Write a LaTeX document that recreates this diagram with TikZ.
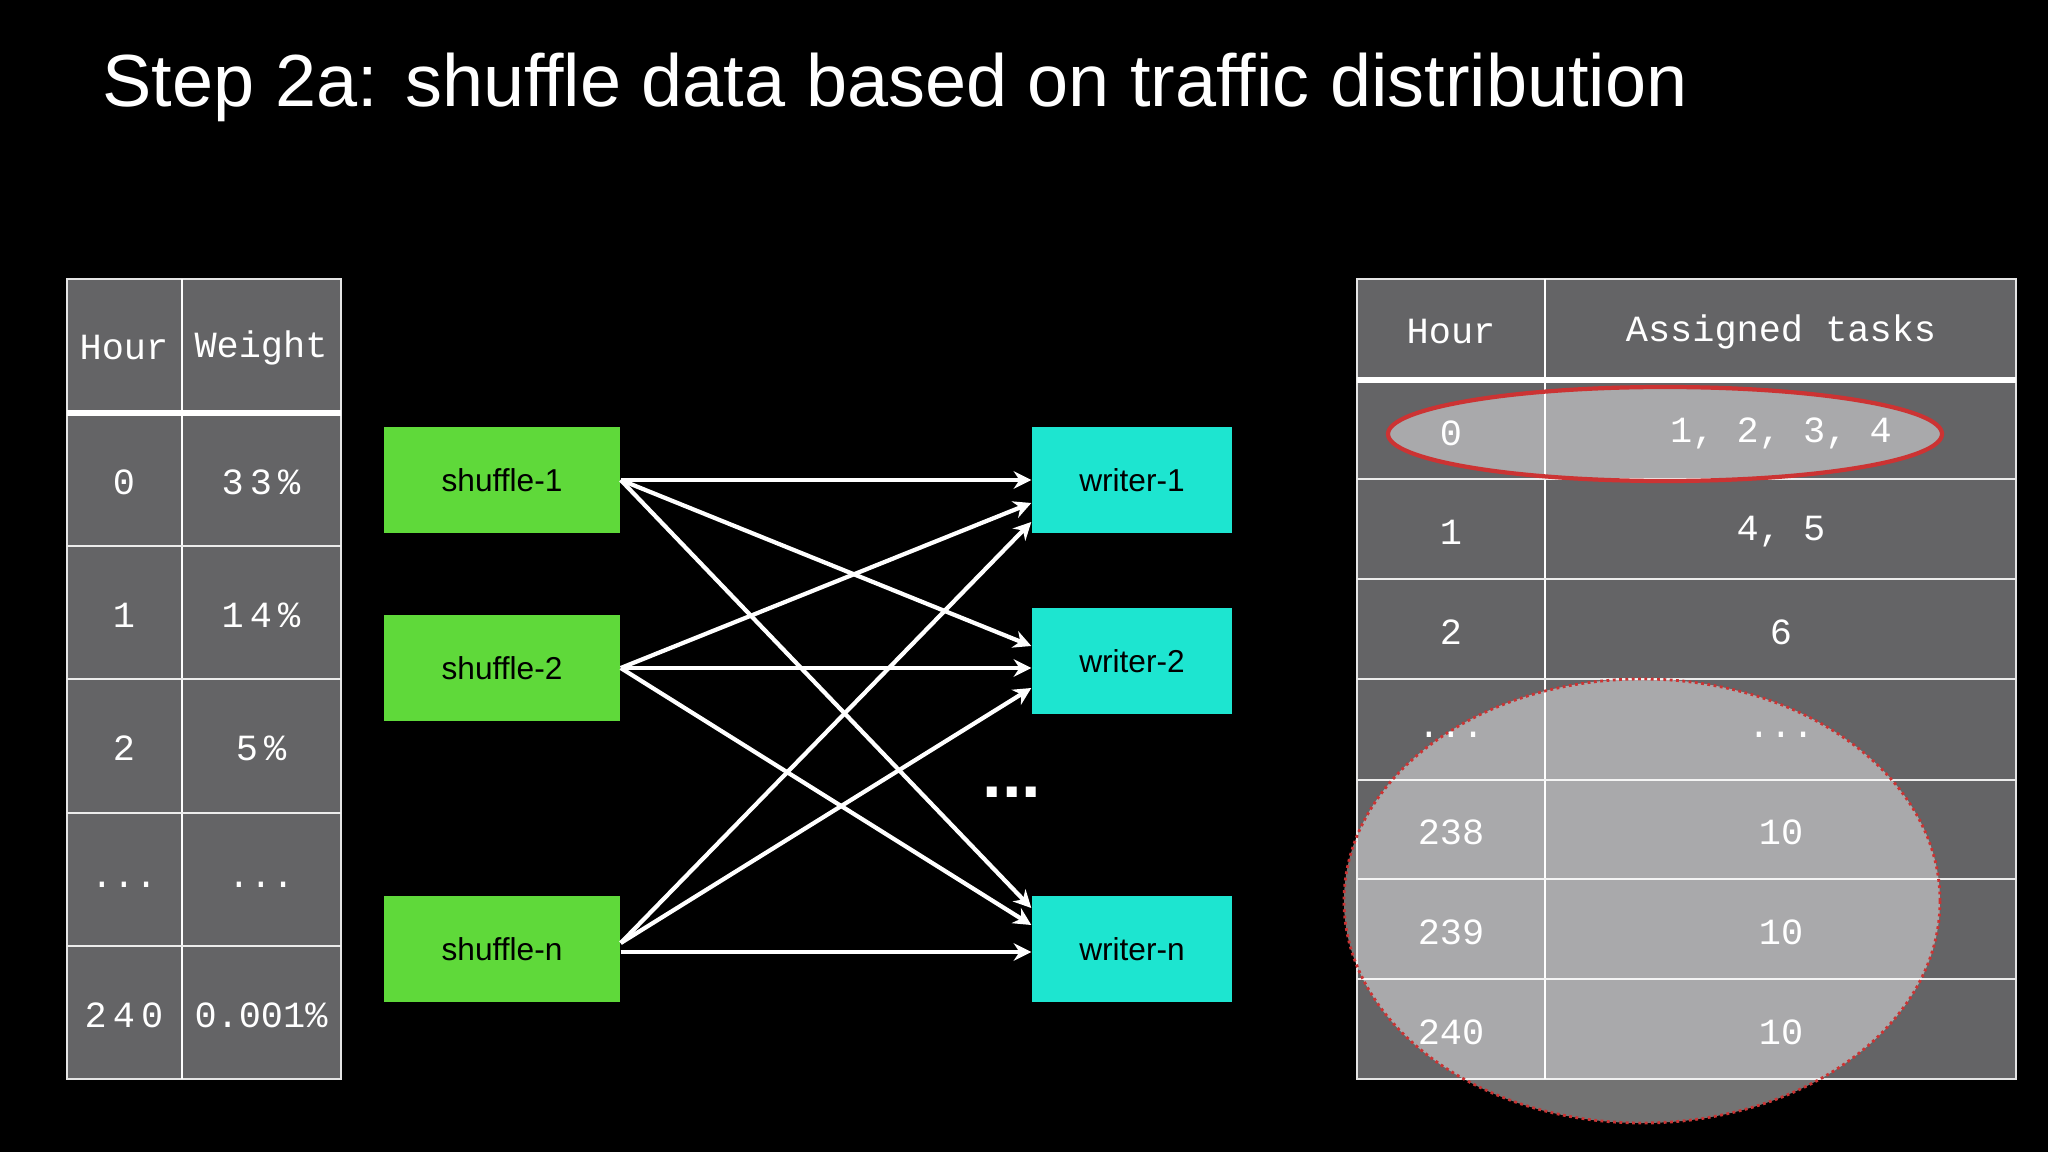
\documentclass[tikz,border=0pt]{standalone}
\usepackage{fontspec}
\usetikzlibrary{arrows.meta,calc}
\setmainfont{Liberation Sans}
\setmonofont{Liberation Mono}
\begin{document}
\begin{tikzpicture}[x=0.01cm,y=-0.01cm,
  cellt/.style={font=\ttfamily\fontsize{10.5pt}{12pt}\selectfont,text=white},
  shuf/.style={fill={rgb,255:red,95;green,217;blue,58}, minimum width=236*0.01cm, minimum height=106*0.01cm, inner sep=0pt, font=\fontsize{9pt}{10pt}\selectfont},
  writ/.style={fill={rgb,255:red,29;green,229;blue,208}, minimum width=200*0.01cm, minimum height=106*0.01cm, inner sep=0pt, font=\fontsize{9pt}{10pt}\selectfont},
  arr/.style={white, line width=1.2pt, -{Stealth[length=5pt,width=5pt]}}]
\fill[black] (0,0) rectangle (2048,1152);
\useasboundingbox (0,0) rectangle (2048,1152);
\node[anchor=base west, text=white, font=\fontsize{21pt}{24pt}\selectfont, inner sep=0pt] (title) at (102,107) {Step 2a: shuffle data based on traffic distribution};
% left table
\fill[fill={rgb,255:red,100;green,100;blue,102}] (67,279) rectangle (341,1079);
\draw[white!80!gray, line width=0.5pt] (67,279) rectangle (341,1079);
\draw[white, line width=0.8pt] (182,279) -- (182,1079);
\draw[white, line width=1.6pt] (67,413) -- (341,413);
\foreach \y in {546,679,813,946} \draw[white!85!gray, line width=0.5pt] (67,\y) -- (341,\y);
\node[cellt] (lh1) at (124,348) {Hour};
\node[cellt] (lh2) at (261,348) {Weight};
\node[cellt] (l01) at (124,482) {0}; \node[cellt] (l02) at (261,482) {3\,3\,\%};
\node[cellt] (l11) at (124,615) {1}; \node[cellt] (l12) at (261,615) {1\,4\,\%};
\node[cellt] (l21) at (124,748) {2}; \node[cellt] (l22) at (261,748) {5\,\%};
\node[cellt] (l31) at (124,885) {...}; \node[cellt] (l32) at (261,885) {...};
\node[cellt] (l41) at (124,1015) {2\,4\,0}; \node[cellt] (l42) at (261,1015) {0.001\%};
% right table
\fill[fill={rgb,255:red,100;green,100;blue,102}] (1357,279) rectangle (2016,1079);
\draw[white!80!gray, line width=0.5pt] (1357,279) rectangle (2016,1079);
\draw[white, line width=0.8pt] (1545,279) -- (1545,1079);
\draw[white, line width=1.6pt] (1357,380) -- (2016,380);
\foreach \y in {479,579,679,780,879,979} \draw[white!85!gray, line width=0.5pt] (1357,\y) -- (2016,\y);
\fill[white, opacity=0.45] (1665,434) ellipse [x radius=277, y radius=47];
\draw[red!60!gray, line width=1.2pt] (1665,434) ellipse [x radius=277, y radius=47];
\fill[white, opacity=0.45] (1642,901) ellipse [x radius=298, y radius=222];
\draw[red!60!gray, line width=0.8pt, densely dotted] (1642,901) ellipse [x radius=298, y radius=222];
\node[cellt] (rh1) at (1451,332) {Hour};
\node[cellt] (rh2) at (1781,332) {Assigned tasks};
\node[cellt] (r01) at (1451,433) {0}; \node[cellt] (r02) at (1781,433) {1, 2, 3, 4};
\node[cellt] (r11) at (1451,532) {1}; \node[cellt] (r12) at (1781,532) {4, 5};
\node[cellt] (r21) at (1451,632) {2}; \node[cellt] (r22) at (1781,632) {6};
\node[cellt] (r31) at (1451,735) {...}; \node[cellt] (r32) at (1781,735) {...};
\node[cellt] (r41) at (1451,832) {238}; \node[cellt] (r42) at (1781,832) {10};
\node[cellt] (r51) at (1451,932) {239}; \node[cellt] (r52) at (1781,932) {10};
\node[cellt] (r61) at (1451,1032) {240}; \node[cellt] (r62) at (1781,1032) {10};
% boxes
\node[shuf] (s1) at (502,480) {shuffle-1};
\node[shuf] (s2) at (502,668) {shuffle-2};
\node[shuf] (sn) at (502,949) {shuffle-n};
\node[writ] (w1) at (1132,480) {writer-1};
\node[writ] (w2) at (1132,661) {writer-2};
\node[writ] (wn) at (1132,949) {writer-n};
\node[text=white, font=\bfseries\fontsize{20pt}{20pt}\selectfont] (dots) at (1012,792) {...};
% arrows
\draw[arr] (s1.east) -- (w1.west);
\draw[arr] (s1.east) -- ($(w2.west)+(0,-15)$);
\draw[arr] (s1.east) -- ($(wn.west)+(0,-41)$);
\draw[arr] (s2.east) -- ($(w1.west)+(0,23)$);
\draw[arr] (s2.east) -- ($(w2.west)+(0,7)$);
\draw[arr] (s2.east) -- ($(wn.west)+(0,-24)$);
\draw[arr] ($(sn.east)+(0,-6)$) -- ($(w1.west)+(0,42)$);
\draw[arr] ($(sn.east)+(0,-6)$) -- ($(w2.west)+(0,27)$);
\draw[arr] ($(sn.east)+(0,3)$) -- ($(wn.west)+(0,3)$);
\end{tikzpicture}
\end{document}
